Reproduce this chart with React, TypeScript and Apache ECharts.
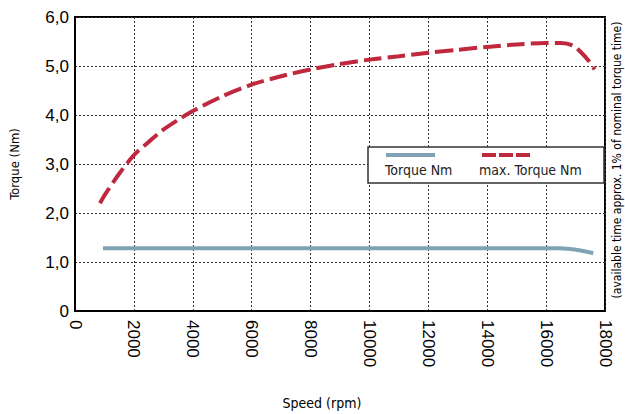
import React, { useEffect, useRef } from "react";
import * as echarts from "echarts";

const maxTorque: [number, number][] = [
  [850, 2.2], [1000, 2.36], [1500, 2.8], [2000, 3.18], [2500, 3.45], [3000, 3.7],
  [3500, 3.9], [4000, 4.08], [5000, 4.38], [6000, 4.62], [7000, 4.79], [8000, 4.93],
  [9000, 5.04], [10000, 5.13], [11000, 5.2], [12000, 5.27], [13000, 5.33], [14000, 5.39],
  [15000, 5.44], [16000, 5.47], [16500, 5.47], [16900, 5.42], [17200, 5.27], [17450, 5.1],
  [17650, 4.93],
];
const torque: [number, number][] = [
  [950, 1.28], [16400, 1.28], [16900, 1.26], [17300, 1.22], [17600, 1.18],
];
const seriesNames = ["Torque Nm", "max. Torque Nm"];
const xTitle = "Speed (rpm)";
const yTitle = "Torque (Nm)";
const rightNote = "(available time approx. 1% of nominal torque time)";

const RED = "#c0283e";
const BLUE = "#7fa3b5";
const NARROW = "'Liberation Sans Narrow', 'DejaVu Sans Condensed', 'Liberation Sans', sans-serif";
const SANS = "'Liberation Sans', Arial, sans-serif";

export default function App() {
  const ref = useRef<HTMLDivElement>(null);
  useEffect(() => {
    if (!ref.current) return;
    const chart = echarts.init(ref.current, null, { renderer: "svg" });
    chart.setOption({
      animation: false,
      backgroundColor: "#fff",
      grid: {
        left: 75, right: 20, top: 17, bottom: 103,
        show: true, borderColor: "#000", borderWidth: 2, backgroundColor: "transparent",
      },
      xAxis: {
        type: "value", min: 0, max: 18000, interval: 2000,
        axisLine: { show: true, lineStyle: { color: "#000", width: 2 } },
        axisTick: { show: false },
        axisLabel: {
          rotate: -90, margin: 9, fontSize: 17, fontFamily: SANS, color: "#000",
          formatter: (v: number) => String(v),
        },
        splitLine: { show: true, lineStyle: { color: "#333", type: [2, 2], width: 1 } },
      },
      yAxis: {
        type: "value", min: 0, max: 6, interval: 1,
        name: yTitle, nameLocation: "middle", nameGap: 54,
        nameTextStyle: { fontFamily: NARROW, fontSize: 13, color: "#000" },
        axisLine: { show: true, lineStyle: { color: "#000", width: 2 } },
        axisTick: { show: false },
        axisLabel: {
          margin: 6, fontSize: 17, fontFamily: SANS, color: "#000",
          formatter: (v: number) => (v === 0 ? "0" : v.toFixed(1).replace(".", ",")),
        },
        splitLine: { show: true, lineStyle: { color: "#333", type: [2, 2], width: 1 } },
      },
      series: [
        {
          name: seriesNames[0], type: "line", data: torque, showSymbol: false,
          smooth: 0.3, lineStyle: { color: BLUE, width: 4 }, z: 3,
        },
        {
          name: seriesNames[1], type: "line", data: maxTorque, showSymbol: false,
          smooth: 0.3, lineStyle: { color: RED, width: 4, type: [18, 6] }, z: 3,
        },
      ],
      graphic: [
        {
          type: "rect", z: 10,
          shape: { x: 368, y: 147, width: 236, height: 36 },
          style: { fill: "#fff", stroke: "#333", lineWidth: 1.5 },
        },
        {
          type: "line", z: 11,
          shape: { x1: 386, y1: 155, x2: 435, y2: 155 },
          style: { stroke: BLUE, lineWidth: 4 },
        },
        {
          type: "line", z: 11,
          shape: { x1: 482, y1: 155, x2: 531, y2: 155 },
          style: { stroke: RED, lineWidth: 4, lineDash: [14, 3] },
        },
        {
          type: "text", z: 11, x: 385, y: 170,
          style: { text: seriesNames[0], font: `14px ${NARROW}`, fill: "#222", verticalAlign: "middle" },
        },
        {
          type: "text", z: 11, x: 479, y: 170,
          style: { text: seriesNames[1], font: `14px ${NARROW}`, fill: "#222", verticalAlign: "middle" },
        },
        {
          type: "text", z: 11, x: 322, y: 403,
          style: { text: xTitle, font: `14px ${NARROW}`, fill: "#000", align: "center", verticalAlign: "middle" },
        },
        {
          type: "text", z: 11, x: 617, y: 160, rotation: Math.PI / 2,
          style: { text: rightNote, font: `12px ${NARROW}`, fill: "#000", align: "center", verticalAlign: "middle" },
        },
      ],
    });
    return () => chart.dispose();
  }, []);
  return <div ref={ref} style={{ width: 625, height: 414, position: "absolute", left: 0, top: 0 }} />;
}
